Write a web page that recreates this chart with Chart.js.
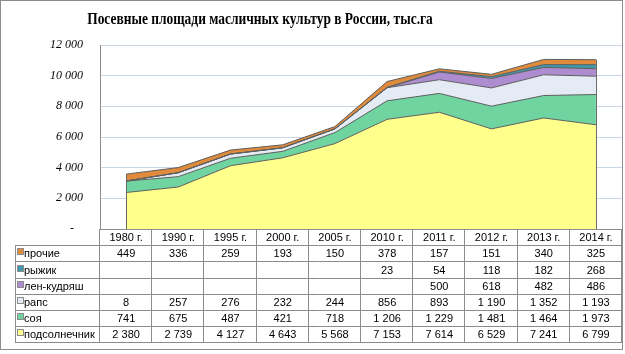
<!DOCTYPE html>
<html>
<head>
<meta charset="utf-8">
<script src="https://cdn.jsdelivr.net/npm/chart.js@4"></script>
<style>
  body { margin: 0; background: #fff; }
  #wrap { width: 625px; height: 354px; }
</style>
</head>
<body>
<div id="wrap"><canvas id="c" width="625" height="354"></canvas></div>
<script>
const years = ['1980 г.', '1990 г.', '1995 г.', '2000 г.', '2005 г.', '2010 г.', '2011 г.', '2012 г.', '2013 г.', '2014 г.'];
const podsolnechnik = [2380, 2739, 4127, 4643, 5568, 7153, 7614, 6529, 7241, 6799];
const soya = [741, 675, 487, 421, 718, 1206, 1229, 1481, 1464, 1973];
const raps = [8, 257, 276, 232, 244, 856, 893, 1190, 1352, 1193];
const lenKudryash = [null, null, null, null, null, null, 500, 618, 482, 486];
const ryzhik = [null, null, null, null, null, 23, 54, 118, 182, 268];
const prochie = [449, 336, 259, 193, 150, 378, 157, 151, 340, 325];
const yTicks = [0, 2000, 4000, 6000, 8000, 10000, 12000];

// bottom to top
const series = [
  { label: 'подсолнечник', data: podsolnechnik, color: '#FFFF8C' },
  { label: 'соя', data: soya, color: '#70D4A0' },
  { label: 'рапс', data: raps, color: '#E4EBF5' },
  { label: 'лен-кудряш', data: lenKudryash, color: '#AE8CD0' },
  { label: 'рыжик', data: ryzhik, color: '#3F97A8' },
  { label: 'прочие', data: prochie, color: '#E08A3C' }
];

const fmt = v => v == null ? '' : String(v).replace(/\B(?=(\d{3})+(?!\d))/g, ' ');

// title, table under the plot, outer border
const tablePlugin = {
  id: 'tablePlugin',
  afterDraw(chart) {
    const ctx = chart.ctx;
    const x = chart.scales.x;
    const area = chart.chartArea;
    const rowH = 16.2;
    const top = area.bottom;
    const colW = (area.right - area.left) / years.length;
    const left = 15;

    ctx.save();
    // edges of the area stack
    const meta = chart.getDatasetMeta(series.length - 1);
    [0, years.length - 1].forEach(i => {
      const px = x.getPixelForValue(i);
      ctx.strokeStyle = '#6b6b6b';
      ctx.lineWidth = 1;
      ctx.beginPath();
      ctx.moveTo(Math.round(px) + 0.5, area.bottom);
      ctx.lineTo(Math.round(px) + 0.5, meta.data[i].y);
      ctx.stroke();
    });

    ctx.strokeStyle = '#8c8c8c';
    ctx.lineWidth = 1;
    const rows = series.slice().reverse();
    const bottom = top + rowH * (rows.length + 1);
    ctx.beginPath();
    // header row
    ctx.moveTo(area.left, Math.round(top) + 0.5);
    ctx.lineTo(area.right, Math.round(top) + 0.5);
    for (let r = 1; r <= rows.length + 1; r++) {
      const yy = Math.round(top + r * rowH) + 0.5;
      ctx.moveTo(left, yy);
      ctx.lineTo(area.right, yy);
    }
    ctx.moveTo(left + 0.5, Math.round(top + rowH));
    ctx.lineTo(left + 0.5, Math.round(bottom) + 0.5);
    for (let c = 0; c <= years.length; c++) {
      const xx = Math.round(area.left + c * colW) - 0.5;
      ctx.moveTo(xx, Math.round(top));
      ctx.lineTo(xx, Math.round(bottom) + 0.5);
    }
    ctx.stroke();

    ctx.fillStyle = '#000';
    ctx.font = '11px "Liberation Sans", Arial, sans-serif';
    ctx.textAlign = 'center';
    ctx.textBaseline = 'middle';
    years.forEach((y, i) => {
      ctx.fillText(y, x.getPixelForValue(i), top + rowH / 2 + 1);
    });
    rows.forEach((s, r) => {
      const cy = top + rowH * (r + 1.5) + 1;
      s.data.forEach((v, i) => {
        ctx.fillText(fmt(v), x.getPixelForValue(i), cy);
      });
      ctx.fillStyle = s.color;
      ctx.fillRect(17.5, Math.round(cy) - 5.5, 6, 6);
      ctx.strokeStyle = '#8c8c8c';
      ctx.strokeRect(17.5, Math.round(cy) - 5.5, 6, 6);
      ctx.fillStyle = '#000';
      ctx.textAlign = 'left';
      ctx.fillText(s.label, 24, cy);
      ctx.textAlign = 'center';
    });

    // title is a bit condensed in the original
    ctx.save();
    ctx.translate(260, 20);
    ctx.scale(0.84, 1);
    ctx.font = 'bold 16px "Liberation Serif", "Times New Roman", serif';
    ctx.fillText('Посевные площади масличных культур в России, тыс.га', 0, 0);
    ctx.restore();

    ctx.strokeStyle = '#8c8c8c';
    ctx.strokeRect(0.5, 0.5, 622, 349);
    ctx.restore();
  }
};

new Chart(document.getElementById('c'), {
  type: 'line',
  data: {
    labels: years,
    datasets: series.map((s, i) => ({
      label: s.label,
      data: s.data.map(v => v == null ? 0 : v),
      backgroundColor: s.color,
      borderColor: '#5e5e5e',
      borderWidth: 1,
      pointRadius: 0,
      tension: 0,
      fill: i === 0 ? 'origin' : '-1'
    }))
  },
  options: {
    responsive: false,
    animation: false,
    layout: { padding: { top: 45, right: 3, bottom: 125, left: 0 } },
    plugins: {
      legend: { display: false },
      title: { display: false },
      tooltip: { enabled: false },
      filler: { drawTime: 'beforeDatasetsDraw' }
    },
    scales: {
      x: {
        offset: true,
        grid: { display: false },
        ticks: { display: false },
        border: { display: false },
        afterFit: s => { s.height = 0; }
      },
      y: {
        stacked: true,
        min: 0,
        max: 12000,
        afterBuildTicks: s => { s.ticks = yTicks.map(v => ({ value: v })); },
        grid: { color: '#CAD6E8', drawTicks: false },
        border: { color: '#8c8c8c' },
        ticks: {
          padding: 17,
          color: '#000',
          font: { family: '"Liberation Serif", "Times New Roman", serif', size: 12, style: 'italic' },
          callback: v => v === 0 ? '-   ' : fmt(v)
        },
        afterFit: s => { s.width = 100; }
      }
    }
  },
  plugins: [tablePlugin]
});
</script>
</body>
</html>
